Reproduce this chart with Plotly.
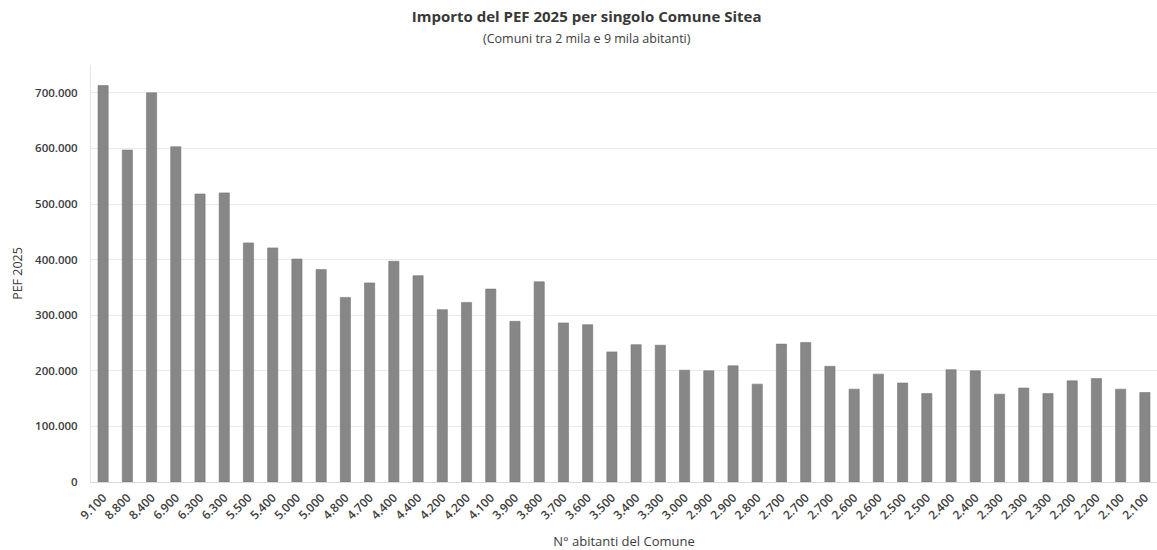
import plotly.graph_objects as go

# Abitanti per Comune (etichette asse x) e importo PEF 2025 in euro
abitanti = [
    "9.100", "8.800", "8.400", "6.900", "6.300", "6.300", "5.500", "5.400",
    "5.000", "5.000", "4.800", "4.700", "4.400", "4.400", "4.200", "4.200",
    "4.100", "3.900", "3.800", "3.700", "3.600", "3.500", "3.400", "3.300",
    "3.000", "2.900", "2.900", "2.800", "2.700", "2.700", "2.700", "2.600",
    "2.600", "2.500", "2.500", "2.400", "2.400", "2.300", "2.300", "2.300",
    "2.200", "2.200", "2.100", "2.100",
]
pef_2025 = [
    713000, 597000, 700000, 603000, 518000, 520000, 430000, 421000,
    401000, 382000, 332000, 358000, 397000, 371000, 310000, 323000,
    347000, 289000, 360000, 286000, 283000, 234000, 247000, 246000,
    201000, 200000, 209000, 176000, 248000, 251000, 208000, 167000,
    194000, 178000, 159000, 202000, 200000, 158000, 169000, 159000,
    182000, 186000, 167000, 161000,
]

# Posizioni univoche per le barre (le etichette si ripetono)
idx = list(range(len(abitanti)))

fig = go.Figure(
    go.Bar(
        x=idx,
        y=pef_2025,
        marker=dict(color="#878787", line=dict(color="#777777", width=0.6)),
        width=0.42,
        hovertemplate="%{y:,d}<extra></extra>",
    )
)

font_family = "Open Sans, Lato, sans-serif"
W, H = 1157, 550
M_L, M_R, M_T, M_B = 91, 0, 65, 68

fig.update_layout(
    width=W,
    height=H,
    margin=dict(l=M_L, r=M_R, t=M_T, b=M_B),
    paper_bgcolor="white",
    plot_bgcolor="white",
    separators=",.",
    showlegend=False,
    font=dict(family=font_family, color="#3c3c3c", size=11),
    title=dict(
        text="Importo del PEF 2025 per singolo Comune Sitea",
        x=0.507,
        xref="container",
        xanchor="center",
        y=1 - 17 / H,
        yref="container",
        yanchor="middle",
        font=dict(family=font_family, size=15, color="#383838", weight="bold"),
    ),
    annotations=[
        dict(
            text="(Comuni tra 2 mila e 9 mila abitanti)",
            # subtitle placed in figure pixels, converted to paper coordinates
            x=(0.507 * W - M_L) / (W - M_L - M_R),
            y=((H - 39) - M_B) / (H - M_T - M_B),
            xref="paper",
            yref="paper",
            showarrow=False,
            xanchor="center",
            yanchor="middle",
            font=dict(family=font_family, size=12.5, color="#3c3c3c"),
        )
    ],
)

fig.update_xaxes(
    tickmode="array",
    tickvals=idx,
    ticktext=abitanti,
    tickangle=-45,
    tickfont=dict(size=12, color="#3c3c3c", weight=600),
    ticklabelstandoff=3,
    range=[-0.5, len(abitanti) - 0.5],
    showgrid=False,
    showline=True,
    linecolor="#d9d9d9",
    linewidth=1,
    ticks="",
    title=dict(
        text="N° abitanti del Comune",
        font=dict(size=13, color="#3c3c3c"),
        standoff=14,
    ),
)

fig.update_yaxes(
    range=[0, 750000],
    tick0=0,
    dtick=100000,
    tickformat=",d",
    tickfont=dict(size=11.5, color="#3c3c3c", weight=600),
    showgrid=True,
    gridcolor="#ebebeb",
    gridwidth=1,
    zeroline=False,
    showline=True,
    linecolor="#e4e4e4",
    linewidth=1,
    ticks="",
    ticklabelstandoff=10,
    title=dict(
        text="PEF 2025",
        font=dict(size=12.5, color="#3c3c3c"),
        standoff=9,
    ),
)

fig.write_html("out.html")
